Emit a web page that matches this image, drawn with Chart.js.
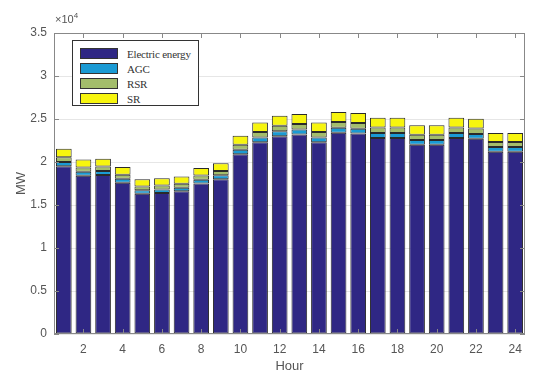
<!DOCTYPE html>
<html>
<head>
<meta charset="utf-8">
<script src="https://cdn.jsdelivr.net/npm/chart.js@4"></script>
<style>
  body { margin: 0; background: #fff; }
  #wrap { position: relative; width: 550px; height: 385px; }
  #exp { position: absolute; left: 55px; top: 11px; font: 11px "Liberation Sans", Arial, sans-serif; color: #555; }
  #exp sup { font-size: 8px; }
  #legend { position: absolute; left: 72px; top: 40px; width: 127px; height: 66px; border: 1px solid #333; background: #fff; box-sizing: border-box; padding-top: 5px; }
  .item { height: 15px; display: flex; align-items: center; font: normal 11px "Liberation Serif", "Times New Roman", serif; color: #333; letter-spacing: -0.2px; }
  .sw { width: 38px; height: 11px; border: 1px solid #333; margin: 0 9px 0 7px; box-sizing: border-box; }
</style>
</head>
<body>
<div id="wrap">
  <canvas id="chart" width="550" height="385"></canvas>
  <div id="exp">&times;10<sup>4</sup></div>
  <div id="legend"></div>
</div>
<script>
// horas y potencias (MW)
const hours = [1, 2, 3, 4, 5, 6, 7, 8, 9, 10, 11, 12, 13, 14, 15, 16, 17, 18, 19, 20, 21, 22, 23, 24];
const electric = [19500, 18400, 18500, 17600, 16300, 16400, 16600, 17500, 18000, 20900, 22300, 23000,
                  23200, 22300, 23400, 23300, 22800, 22800, 22000, 22000, 22800, 22700, 21200, 21200];
const agc = [500, 460, 460, 440, 410, 410, 420, 440, 450, 520, 560, 580,
             580, 560, 590, 580, 570, 570, 550, 550, 570, 570, 530, 530];
const rsr = [550, 510, 510, 490, 450, 460, 460, 480, 500, 580, 620, 640,
             650, 620, 650, 650, 630, 630, 610, 610, 630, 630, 590, 590];
const sr = [1000, 920, 920, 880, 820, 830, 830, 880, 900, 1050, 1120, 1150,
            1160, 1120, 1170, 1160, 1140, 1140, 1100, 1100, 1140, 1140, 1060, 1060];
const seriesNames = ['Electric energy', 'AGC', 'RSR', 'SR'];
const yTicks = [0, 5000, 10000, 15000, 20000, 25000, 30000, 35000];

const colors = ['#2f2784', '#1a9ad4', '#a3bd6b', '#f7f50e'];

function ds(i, values) {
  return {
    label: seriesNames[i],
    data: values,
    backgroundColor: colors[i],
    borderColor: '#2a2a2a',
    borderWidth: 1,
    borderSkipped: false,
    barPercentage: 0.8,
    categoryPercentage: 1.0
  };
}

// caja y marcas hacia adentro, estilo matlab
const boxPlugin = {
  id: 'box',
  afterDraw(chart) {
    const ctx = chart.ctx;
    const a = chart.chartArea;
    const x = chart.scales.x, y = chart.scales.y;
    ctx.save();
    ctx.strokeStyle = '#888';
    ctx.lineWidth = 1;
    ctx.strokeRect(a.left + 0.5, a.top + 0.5, a.right - a.left - 1, a.bottom - a.top - 1);
    ctx.beginPath();
    hours.forEach((h, i) => {
      if (h % 2 !== 0) return;
      const px = Math.round(x.getPixelForValue(i)) + 0.5;
      ctx.moveTo(px, a.bottom); ctx.lineTo(px, a.bottom - 5);
      ctx.moveTo(px, a.top); ctx.lineTo(px, a.top + 5);
    });
    yTicks.forEach(v => {
      const py = Math.round(y.getPixelForValue(v)) + 0.5;
      ctx.moveTo(a.left, py); ctx.lineTo(a.left + 5, py);
      ctx.moveTo(a.right, py); ctx.lineTo(a.right - 5, py);
    });
    ctx.stroke();
    ctx.restore();
  }
};

const data = {
  labels: hours,
  datasets: [ds(0, electric), ds(1, agc), ds(2, rsr), ds(3, sr)]
};

const config = {
  type: 'bar',
  data: data,
  plugins: [boxPlugin],
  options: {
    responsive: false,
    animation: false,
    layout: { padding: { top: 33, right: 25, left: 0, bottom: 0 } },
    plugins: { legend: { display: false }, tooltip: { enabled: false } },
    scales: {
      x: {
        stacked: true,
        grid: { display: false, drawTicks: false },
        border: { display: false },
        afterFit: s => { s.height = 51; },
        ticks: {
          autoSkip: false, maxRotation: 0, padding: 8, color: '#555',
          font: { family: 'Liberation Sans', size: 12 },
          callback: (v, i) => (hours[i] % 2 === 0 ? String(hours[i]) : '')
        },
        title: { display: true, text: 'Hour', color: '#555', padding: { top: 0, bottom: 11 },
                 font: { family: 'Liberation Sans', size: 13 } }
      },
      y: {
        stacked: true,
        min: 0, max: 35000,
        afterFit: s => { s.width = 54; },
        afterBuildTicks: s => { s.ticks = yTicks.map(v => ({ value: v })); },
        grid: { color: '#e6e6e6', drawTicks: false },
        border: { display: false },
        ticks: {
          padding: 7, color: '#555',
          font: { family: 'Liberation Sans', size: 12 },
          callback: v => String(v / 10000)
        },
        title: { display: true, text: 'MW', color: '#555', padding: { top: 14, bottom: 0 },
                 font: { family: 'Liberation Sans', size: 13 } }
      }
    }
  }
};

const mwChart = new Chart(document.getElementById('chart'), config);

// leyenda en html
const legend = document.getElementById('legend');
seriesNames.forEach((name, i) => {
  const row = document.createElement('div');
  row.className = 'item';
  row.innerHTML = '<span class="sw" style="background:' + colors[i] + '"></span>' + name;
  legend.appendChild(row);
});
</script>
</body>
</html>
